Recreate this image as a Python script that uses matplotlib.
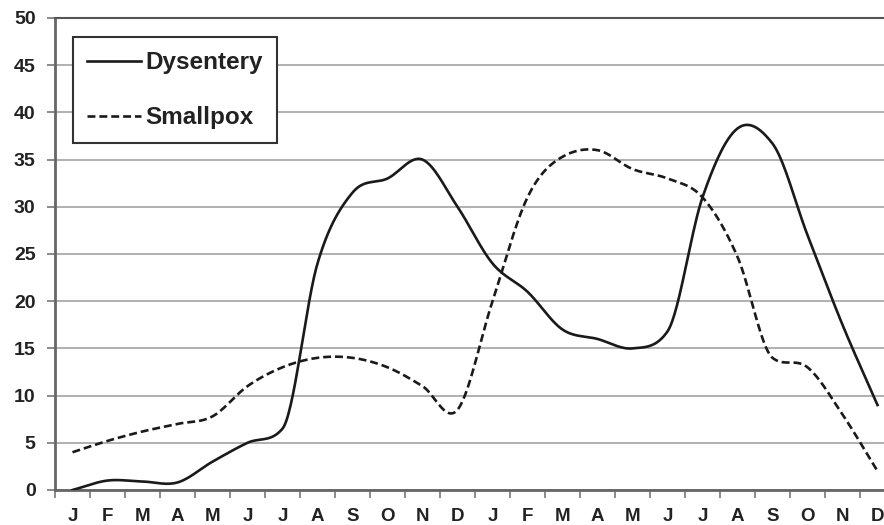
import numpy as np
import matplotlib
matplotlib.use("Agg")
import matplotlib.pyplot as plt
from matplotlib.lines import Line2D

months = ["J", "F", "M", "A", "M", "J", "J", "A", "S", "O", "N", "D",
          "J", "F", "M", "A", "M", "J", "J", "A", "S", "O", "N", "D"]
dysentery = [0, 1, 0.9, 0.8, 3, 5, 6.5, 24, 31.5, 33, 35, 30,
             24, 21, 17, 16, 15, 16.8, 31, 38.3, 36.7, 27, 17.5, 9]
smallpox = [4, 5.2, 6.2, 7, 7.8, 11, 13, 14, 14, 13, 11, 8.5,
            20, 31, 35.3, 36, 34, 33, 31, 24.7, 14, 13, 8, 2]
yticks = [0, 5, 10, 15, 20, 25, 30, 35, 40, 45, 50]


def smooth(y, n=30):
    """Smooth cubic curve through the points (Catmull-Rom tangents, limited on monotone runs)."""
    y = np.asarray(y, float)
    N = len(y)
    d = np.diff(y)
    m = np.zeros(N)
    m[0] = d[0]
    m[-1] = d[-1]
    for i in range(1, N - 1):
        mi = (y[i + 1] - y[i - 1]) / 2.0
        if d[i - 1] * d[i] > 0:
            lim = 3 * min(abs(d[i - 1]), abs(d[i]))
            mi = np.sign(mi) * min(abs(mi), lim)
        m[i] = mi
    xs, ys = [], []
    for i in range(N - 1):
        t = np.linspace(0, 1, n, endpoint=(i == N - 2))
        h00 = 2 * t ** 3 - 3 * t ** 2 + 1
        h10 = t ** 3 - 2 * t ** 2 + t
        h01 = -2 * t ** 3 + 3 * t ** 2
        h11 = t ** 3 - t ** 2
        ys.append(h00 * y[i] + h10 * m[i] + h01 * y[i + 1] + h11 * m[i + 1])
        xs.append(i + t)
    return np.concatenate(xs), np.concatenate(ys)


plt.rcParams['font.family'] = ['Liberation Sans', 'DejaVu Sans']
fig = plt.figure(figsize=(8.84, 5.25), dpi=100)
ax = fig.add_axes([55 / 884, 35 / 525, 840 / 884, 472 / 525])

dash = (0, (3.0, 1.5))
xs, ys = smooth(dysentery)
ax.plot(xs, ys, color="#1a1a1a", lw=1.9, zorder=3)
xs, ys = smooth(smallpox)
ax.plot(xs, ys, color="#1a1a1a", lw=1.9, linestyle=dash, zorder=3)

ax.set_xlim(-0.5, 23.5)
ax.set_ylim(0, 50)
ax.set_yticks(yticks)
ax.set_yticklabels([str(v) for v in yticks], fontsize=14, fontweight="bold", color="#222222")
ax.set_xticks(range(len(months)))
ax.set_xticklabels(months, fontsize=13.5, fontweight="bold", color="#222222")
ax.set_xticks(np.arange(-0.5, 24, 1), minor=True)
ax.tick_params(axis="x", which="major", length=0, pad=13)
ax.tick_params(axis="x", which="minor", length=6, color="#777777", width=1.2)
ax.tick_params(axis="y", length=6, color="#777777", width=1.2, pad=8)

ax.grid(axis="y", color="#aaaaaa", lw=1.3)
ax.set_axisbelow(True)
for s in ["left", "bottom"]:
    ax.spines[s].set_color("#666666")
    ax.spines[s].set_linewidth(2)
ax.spines["top"].set_color("#555555")
ax.spines["top"].set_linewidth(1.5)
ax.spines["right"].set_visible(False)

handles = [Line2D([], [], color="#1a1a1a", lw=1.9),
           Line2D([], [], color="#1a1a1a", lw=1.9, linestyle=dash)]
leg = ax.legend(handles, ["Dysentery", "Smallpox"], loc="upper left",
                bbox_to_anchor=(18 / 840, 1 - 19 / 472), fancybox=False,
                frameon=True, edgecolor="#333333", framealpha=1,
                prop={"weight": "bold", "size": 17.5}, handlelength=2.2,
                handletextpad=0.2, labelspacing=1.32, borderpad=0.58,
                borderaxespad=0)
leg.get_frame().set_linewidth(1.5)
for t in leg.get_texts():
    t.set_color("#222222")

fig.savefig("out.png", dpi=100)
